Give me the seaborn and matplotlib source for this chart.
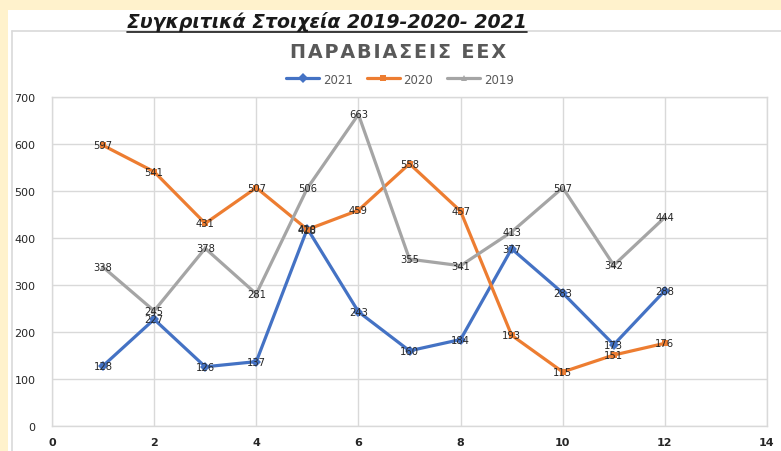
import matplotlib
matplotlib.use("Agg")
import matplotlib.pyplot as plt
from matplotlib.patches import Rectangle
from matplotlib.lines import Line2D
import seaborn as sns
import pandas as pd

months = [1, 2, 3, 4, 5, 6, 7, 8, 9, 10, 11, 12]
v2021 = [128, 227, 126, 137, 420, 243, 160, 184, 377, 283, 173, 288]
v2020 = [597, 541, 431, 507, 418, 459, 558, 457, 193, 115, 151, 176]
v2019 = [338, 245, 378, 281, 506, 663, 355, 341, 413, 507, 342, 444]
series_names = ["2021", "2020", "2019"]
x_ticks = [0, 2, 4, 6, 8, 10, 12, 14]
y_ticks = [0, 100, 200, 300, 400, 500, 600, 700]
main_title = "Συγκριτικά Στοιχεία 2019-2020- 2021"
chart_title = "ΠΑΡΑΒΙΑΣΕΙΣ ΕΕΧ"

colors = {"2021": "#4472C4", "2020": "#ED7D31", "2019": "#A5A5A5"}
markers = {"2021": "D", "2020": "s", "2019": "^"}

df = pd.concat([
    pd.DataFrame({"month": months, "value": v, "year": name})
    for name, v in zip(series_names, [v2021, v2020, v2019])
], ignore_index=True)

sns.set_theme(style="white")
plt.rcParams['font.family'] = ['DejaVu Sans']

W, H = 781, 452
fig = plt.figure(figsize=(W / 100, H / 100), dpi=100, facecolor="#FFF2CC")

def fx(px):
    return px / W

def fy(py):
    return 1 - py / H

# white panel
fig.patches.append(Rectangle((fx(8), 0), 1 - fx(8), fy(11), transform=fig.transFigure,
                             facecolor="white", edgecolor="none", zorder=-5))
# chart border lines
fig.lines.append(Line2D([fx(12), 1], [fy(32), fy(32)], transform=fig.transFigure,
                        color="#D9D9D9", lw=1.2, zorder=-4))
fig.lines.append(Line2D([fx(12), fx(12)], [fy(32), 0], transform=fig.transFigure,
                        color="#D9D9D9", lw=1.2, zorder=-4))

ax = fig.add_axes([fx(52), 1 - 427 / H, fx(767) - fx(52), (427 - 98) / H])
ax.set_zorder(2)
ax.set_facecolor("white")

sns.lineplot(data=df, x="month", y="value", hue="year", style="year",
             palette=colors, markers=markers, dashes=False, lw=2.3,
             markersize=5, markeredgewidth=0, ax=ax, legend=False)

for name, vals in zip(series_names, [v2021, v2020, v2019]):
    for m, v in zip(months, vals):
        ax.text(m, v, str(v), ha="center", va="center", fontsize=7.2, color="#262626", zorder=5)

ax.set_xlim(0, 14)
ax.set_ylim(0, 700)
ax.set_xticks(x_ticks)
ax.set_yticks(y_ticks)
ax.set_xlabel("")
ax.set_ylabel("")
ax.grid(True, color="#D9D9D9", lw=1)
ax.set_axisbelow(True)
for s in ax.spines.values():
    s.set_color("#D9D9D9")
    s.set_linewidth(1)
ax.tick_params(axis="both", length=0, labelsize=8, colors="#262626")
ax.tick_params(axis="x", pad=8)
ax.tick_params(axis="y", pad=12)
for lbl in ax.get_xticklabels():
    lbl.set_fontweight("bold")

# Titles
t = fig.text(fx(327), fy(22), main_title, ha="center", va="center", fontsize=13.6,
             fontweight="bold", style="italic", color="#1a1a1a")
spaced_title = "\u200a".join(chart_title)
fig.text(fx(398), fy(52), spaced_title, ha="center", va="center", fontsize=13.8,
         fontweight="bold", color="#595959")

# Legend
handles = [Line2D([0], [0], color=colors[n], marker=markers[n], lw=2.3, markersize=5,
                  markeredgewidth=0) for n in series_names]
fig.legend(handles, series_names, loc="center", bbox_to_anchor=(fx(400), fy(80)), ncol=3,
           frameon=False, fontsize=8.5, labelcolor="#595959", handlelength=2.8,
           columnspacing=1.2, handletextpad=0.3)

# underline for main title
fig.canvas.draw()
bb = t.get_window_extent(renderer=fig.canvas.get_renderer())
fig.lines.append(Line2D([bb.x0 / W, bb.x1 / W], [(bb.y0 - 1) / H, (bb.y0 - 1) / H],
                        transform=fig.transFigure, color="#1a1a1a", lw=1.2))

fig.savefig("out.png", dpi=100, facecolor=fig.get_facecolor())
